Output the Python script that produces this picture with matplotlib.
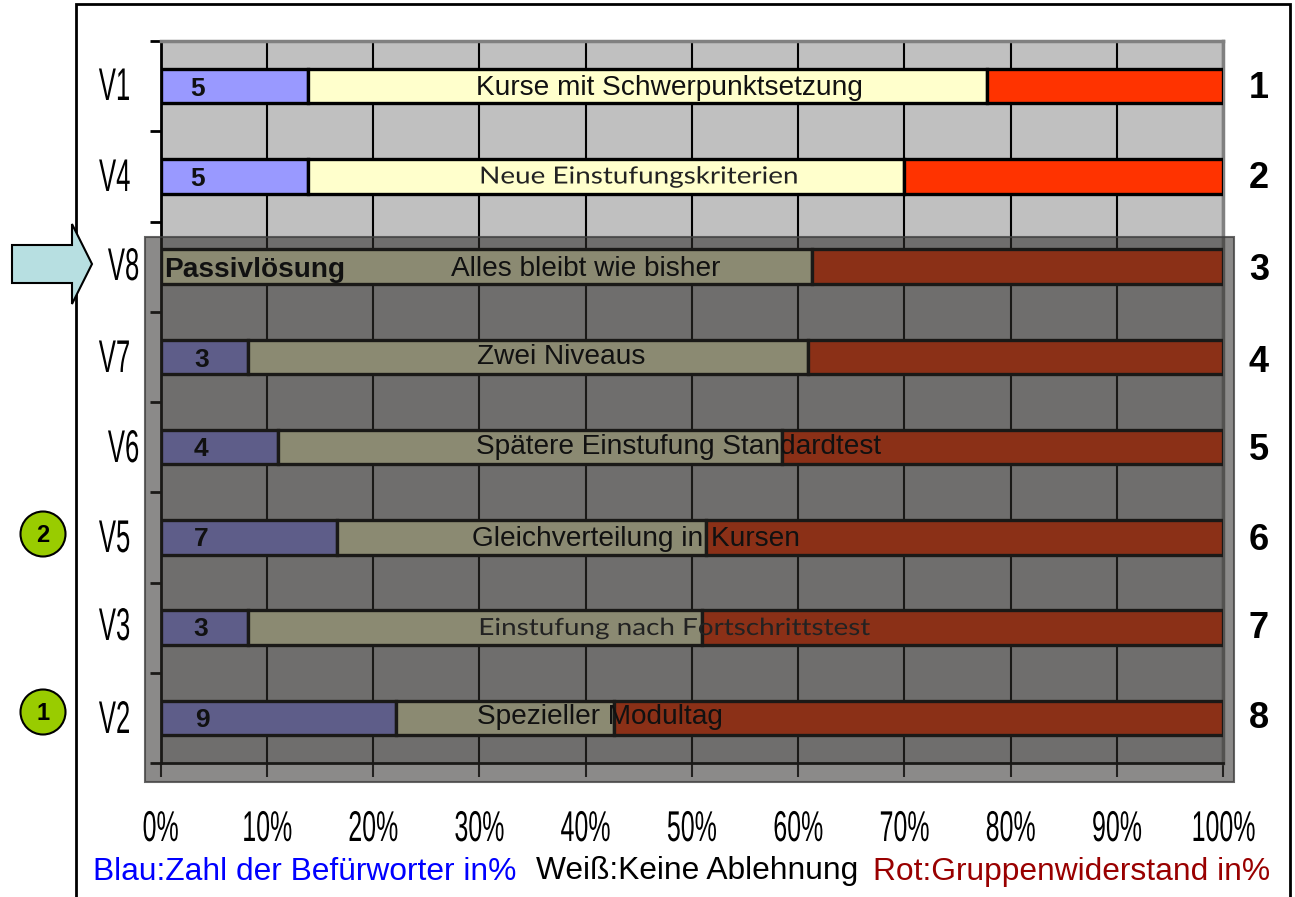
import matplotlib
matplotlib.use("Agg")
import matplotlib.pyplot as plt
import matplotlib.patheffects as pe
from matplotlib.patches import Rectangle, Circle, Polygon
from matplotlib.transforms import Affine2D

W, H = 1295, 897

# ---------- data ----------
categories = ["V1", "V4", "V8", "V7", "V6", "V5", "V3", "V2"]
ranks = ["1", "2", "3", "4", "5", "6", "7", "8"]
supporters_pct = [13.9, 13.9, 0.0, 8.2, 11.1, 16.6, 8.2, 22.2]
neutral_pct = [63.9, 56.1, 61.3, 52.7, 47.4, 34.7, 42.8, 20.5]
resistance_pct = [22.2, 30.0, 38.7, 39.1, 41.5, 48.7, 49.0, 57.3]
supporter_counts = ["5", "5", "", "3", "4", "7", "3", "9"]
bar_titles = ["Kurse mit Schwerpunktsetzung", "Neue Einstufungskriterien", "Alles bleibt wie bisher",
              "Zwei Niveaus", "Spätere Einstufung Standardtest", "Gleichverteilung in Kursen",
              "Einstufung nach Fortschrittstest", "Spezieller Modultag"]
x_ticks = [0, 10, 20, 30, 40, 50, 60, 70, 80, 90, 100]
x_tick_labels = ["0%", "10%", "20%", "30%", "40%", "50%", "60%", "70%", "80%", "90%", "100%"]
passive_label = "Passivlösung"
legend_texts = ["Blau:Zahl der Befürworter in%", "Weiß:Keine Ablehnung", "Rot:Gruppenwiderstand in%"]
circle_marks = {"V5": "2", "V2": "1"}


class XScale(pe.AbstractPathEffect):
    """Stretch glyphs horizontally about their centre (condensed / extended faces)."""
    def __init__(self, sx):
        super().__init__()
        self.sx = sx

    def draw_path(self, renderer, gc, tpath, affine, rgbFace=None):
        ext = tpath.get_extents(affine)
        cx = 0.5 * (ext.x0 + ext.x1)
        t = affine + Affine2D().translate(-cx, 0).scale(self.sx, 1).translate(cx, 0)
        renderer.draw_path(gc, tpath, t, rgbFace)


plt.rcParams["font.family"] = ["Liberation Sans", "DejaVu Sans"]
fig = plt.figure(figsize=(W / 100, H / 100), dpi=100, facecolor="white")

# full-figure pixel canvases for annotations
bg = fig.add_axes([0, 0, 1, 1], zorder=0)
bg.set_xlim(0, W); bg.set_ylim(H, 0); bg.axis("off")
top = fig.add_axes([0, 0, 1, 1], zorder=3)
top.set_xlim(0, W); top.set_ylim(H, 0); top.axis("off"); top.patch.set_alpha(0)
txt = fig.add_axes([0, 0, 1, 1], zorder=5)
txt.set_xlim(0, W); txt.set_ylim(H, 0); txt.axis("off"); txt.patch.set_alpha(0)

# outer frame (open at the bottom)
bg.plot([75.5, 75.5, 1290, 1290], [897, 4, 4, 897], color="black", lw=2.0, solid_joinstyle="miter")

# chart axes
L, R, T, B = 160.5, 1223, 41, 763
ax = fig.add_axes([L / W, 1 - B / H, (R - L) / W, (B - T) / H], zorder=2)
ax.set_facecolor("#c0c0c0")
y = list(range(len(categories)))
ax.set_xlim(0, 100)
ax.set_ylim(len(categories) - 0.5, -0.5)
ax.set_axisbelow(True)
ax.xaxis.grid(True, color="black", lw=1.5)
ax.yaxis.grid(False)
ax.set_xticks(x_ticks)
ax.set_xticklabels([])
ax.set_yticks([i - 0.5 for i in range(len(categories) + 1)])
ax.set_yticklabels([])
ax.tick_params(axis="x", length=10, width=1.5, color="#111111")
ax.tick_params(axis="y", length=8, width=2, color="black")
for s in ("top", "right"):
    ax.spines[s].set_color("#808080"); ax.spines[s].set_linewidth(2.5)
for s in ("left", "bottom"):
    ax.spines[s].set_color("black"); ax.spines[s].set_linewidth(2)

bh = 0.385
kw = dict(height=bh, edgecolor="black", linewidth=2.4, zorder=3)
ax.barh(y, supporters_pct, color="#9999ff", **kw)
lefts = supporters_pct
ax.barh(y, neutral_pct, left=lefts, color="#ffffcc", **kw)
lefts2 = [a + b for a, b in zip(supporters_pct, neutral_pct)]
ax.barh(y, resistance_pct, left=lefts2, color="#ff3300", **kw)

# dark overlay
top.add_patch(Rectangle((145, 237), 1089, 545, facecolor=(0.188, 0.18, 0.17, 0.556),
                        edgecolor=(0.25, 0.25, 0.25, 0.8), linewidth=1.5))

# arrow
arrow_pts = [(12, 245), (72, 245), (72, 224), (92, 264), (72, 304), (72, 283), (12, 283)]
top.add_patch(Polygon(arrow_pts, closed=True, facecolor="#b7dfe1", edgecolor="black", linewidth=1.5))

# circles
for cat, n in circle_marks.items():
    cy = {"V5": 534, "V2": 712}[cat]
    top.add_patch(Circle((43, cy), 22.5, facecolor="#99cc00", edgecolor="black", linewidth=1.5))
    txt.text(43, cy + 1, n, ha="center", va="center", fontsize=17, fontweight="bold", color="black")

label_x = {"V8": 124, "V6": 124}
label_y = [88, 179, 268, 360, 450, 540, 628, 721]
rank_y = [89, 179, 271, 362, 450, 540, 629, 719]
count_y = [89, 179, 0, 360, 449, 539, 629, 720]
title_y = [88, 177, 269.5, 356.5, 447.5, 539, 628.5, 716.5]
count_x = [198, 198, None, 202, 201, 201, 201, 202]
wide = {"Neue Einstufungskriterien": (17, 1.18, 639), "Einstufung nach Fortschrittstest": (17, 1.18, 674.5)}
plain_x = {"Kurse mit Schwerpunktsetzung": 669.5, "Alles bleibt wie bisher": 586, "Zwei Niveaus": 561,
           "Spätere Einstufung Standardtest": 679, "Gleichverteilung in Kursen": 636, "Spezieller Modultag": 600}

for i, c in enumerate(categories):
    txt.text(label_x.get(c, 115), label_y[i], c, ha="center", va="center", fontsize=33,
             color="black", path_effects=[XScale(0.56)])
    txt.text(1259, rank_y[i], ranks[i], ha="center", va="center", fontsize=26, fontweight="bold", color="black")
    if supporter_counts[i]:
        txt.text(count_x[i], count_y[i], supporter_counts[i], ha="center", va="center", fontsize=19,
                 fontweight="bold", color="#111111")
    t = bar_titles[i]
    if t in wide:
        fs, sx, xc = wide[t]
        txt.text(xc, title_y[i], t, ha="center", va="center", fontsize=fs, color="#222222",
                 family=["Lato", "DejaVu Sans"], path_effects=[XScale(sx)])
    else:
        txt.text(plain_x[t], title_y[i], t, ha="center", va="center", fontsize=20.2, color="#111111")

txt.text(164, 270, passive_label, ha="left", va="center", fontsize=20.2, fontweight="bold", color="#111111")

for v, lab in zip(x_ticks, x_tick_labels):
    px = L + (R - L) * v / 100
    txt.text(px, 830, lab, ha="center", va="center", fontsize=31, color="black", path_effects=[XScale(0.58)])

txt.text(305, 872, legend_texts[0], ha="center", va="center", fontsize=22.9, color="#0000ff")
txt.text(697, 871, legend_texts[1], ha="center", va="center", fontsize=22.9, color="black")
txt.text(1071.5, 872, legend_texts[2], ha="center", va="center", fontsize=22.9, color="#990000")

fig.savefig("out.png", dpi=100)
